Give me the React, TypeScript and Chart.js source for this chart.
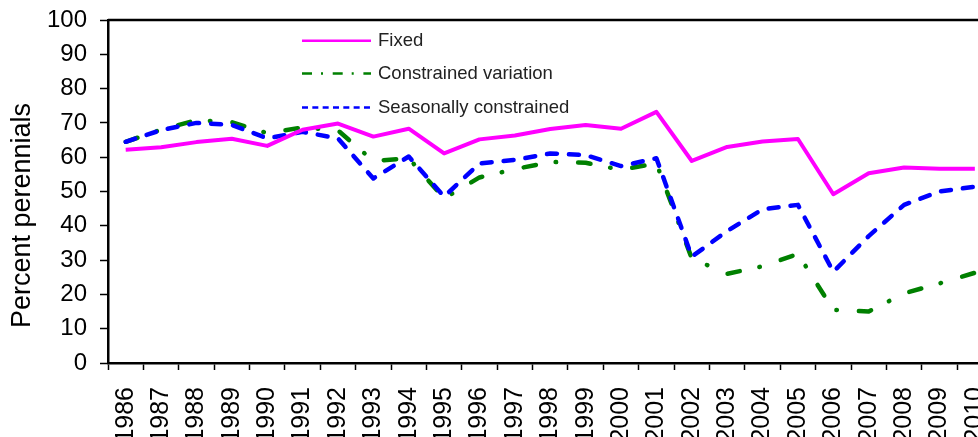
import React, { useEffect, useRef } from "react";
import { Chart, registerables } from "chart.js";

Chart.register(...registerables);

const FONT = "'Liberation Sans', Arial, sans-serif";

const years = [
  "1986", "1987", "1988", "1989", "1990", "1991", "1992", "1993", "1994", "1995",
  "1996", "1997", "1998", "1999", "2000", "2001", "2002", "2003", "2004", "2005",
  "2006", "2007", "2008", "2009", "2010",
];

const fixedValues = [
  62.2, 62.9, 64.4, 65.4, 63.3, 68.0, 69.8, 66.0, 68.3, 61.1,
  65.2, 66.3, 68.2, 69.4, 68.3, 73.2, 58.9, 63.0, 64.6, 65.3,
  49.2, 55.3, 57.0, 56.6, 56.6,
];

const constrainedValues = [
  64.5, 68.0, 70.8, 70.2, 67.0, 68.7, 67.8, 58.9, 59.7, 48.0,
  54.1, 56.5, 58.6, 58.4, 56.3, 58.2, 30.5, 26.0, 28.2, 31.8,
  15.5, 15.0, 20.3, 23.2, 26.3,
];

const seasonalValues = [
  64.5, 67.9, 70.0, 69.4, 65.5, 67.4, 65.5, 53.8, 60.2, 48.5,
  58.2, 59.2, 61.1, 60.6, 57.4, 59.7, 31.0, 38.5, 44.8, 46.1,
  26.6, 37.0, 46.1, 50.0, 51.4,
];

const yTicks = [0, 10, 20, 30, 40, 50, 60, 70, 80, 90, 100];

const seriesNames = ["Fixed", "Constrained variation", "Seasonally constrained"];
const seriesColors = ["#FF00FF", "#008000", "#0000FF"];
const legendDashes = [[], [10, 9, 2, 9.7], [6, 4.33]];

const frameAndLegend = {
  id: "frameAndLegend",
  afterDraw(chart: any) {
    const { ctx, chartArea } = chart;
    ctx.save();
    // top frame line
    ctx.strokeStyle = "#000";
    ctx.lineWidth = 2.5;
    ctx.beginPath();
    ctx.moveTo(chartArea.left, chartArea.top);
    ctx.lineTo(chartArea.right, chartArea.top);
    ctx.lineTo(chartArea.right, chartArea.bottom);
    ctx.stroke();

    // legend
    const rows = [40.7, 73.5, 107.5];
    ctx.font = `18.5px ${FONT}`;
    ctx.textBaseline = "middle";
    ctx.textAlign = "left";
    seriesNames.forEach((name, i) => {
      ctx.strokeStyle = seriesColors[i];
      ctx.lineWidth = 2.5;
      ctx.lineCap = "butt";
      ctx.setLineDash(legendDashes[i]);
      ctx.beginPath();
      ctx.moveTo(302, rows[i]);
      ctx.lineTo(371, rows[i]);
      ctx.stroke();
      ctx.setLineDash([]);
      ctx.fillStyle = "#222";
      ctx.fillText(name, 378, rows[i]);
    });

    // y axis title
    ctx.translate(23, 215.5);
    ctx.rotate(-Math.PI / 2);
    ctx.textAlign = "center";
    ctx.textBaseline = "middle";
    ctx.fillStyle = "#000";
    ctx.font = `27px ${FONT}`;
    ctx.fillText("Percent perennials", 0, 0);
    ctx.restore();
  },
};

export default function App() {
  const ref = useRef<HTMLCanvasElement | null>(null);

  useEffect(() => {
    if (!ref.current) return;
    const chart = new Chart(ref.current, {
      type: "line",
      data: {
        labels: years,
        datasets: [
          {
            label: seriesNames[0],
            data: fixedValues,
            borderColor: seriesColors[0],
            borderWidth: 4,
            pointRadius: 0,
            tension: 0,
            borderJoinStyle: "round",
            order: 0,
          },
          {
            label: seriesNames[1],
            data: constrainedValues,
            borderColor: seriesColors[1],
            borderWidth: 4.5,
            borderDash: [12.5, 20, 0.5, 22],
            borderCapStyle: "round",
            borderJoinStyle: "round",
            pointRadius: 0,
            tension: 0,
            order: 2,
          },
          {
            label: seriesNames[2],
            data: seasonalValues,
            borderColor: seriesColors[2],
            borderWidth: 4.5,
            borderDash: [10, 12],
            borderCapStyle: "round",
            borderJoinStyle: "round",
            pointRadius: 0,
            tension: 0,
            order: 1,
          },
        ],
      },
      options: {
        responsive: false,
        animation: false,
        events: [],
        layout: { padding: { top: 20, right: 8, left: 0, bottom: 0 } },
        plugins: {
          legend: { display: false },
          tooltip: { enabled: false },
          title: { display: false },
        },
        scales: {
          x: {
            type: "category",
            offset: true,
            grid: {
              offset: true,
              drawOnChartArea: false,
              drawTicks: true,
              tickLength: 7,
              color: "#000",
              tickWidth: 1.5,
            },
            border: { display: true, color: "#000", width: 2.5 },
            ticks: {
              autoSkip: false,
              maxRotation: 90,
              minRotation: 90,
              padding: 17,
              color: "#000",
              font: { family: FONT, size: 25 },
            },
            afterFit: (s: any) => {
              s.height = 74;
            },
          },
          y: {
            min: yTicks[0],
            max: yTicks[yTicks.length - 1],
            afterBuildTicks: (s: any) => {
              s.ticks = yTicks.map((v) => ({ value: v }));
            },
            ticks: {
              stepSize: 10,
              padding: 13,
              color: "#000",
              font: { family: FONT, size: 24, lineHeight: 0.5 },
            },
            grid: {
              drawOnChartArea: false,
              tickLength: 8,
              color: "#000",
              tickWidth: 1.5,
            },
            border: { display: true, color: "#000", width: 2.5 },
            afterFit: (s: any) => {
              s.width = 108;
            },
          },
        },
      },
      plugins: [frameAndLegend],
    });
    return () => chart.destroy();
  }, []);

  return (
    <div
      style={{
        position: "fixed",
        left: 0,
        top: 0,
        width: 978,
        height: 437,
        overflow: "hidden",
        background: "#fff",
      }}
    >
      <canvas ref={ref} width={1022} height={437} style={{ display: "block" }} />
    </div>
  );
}
